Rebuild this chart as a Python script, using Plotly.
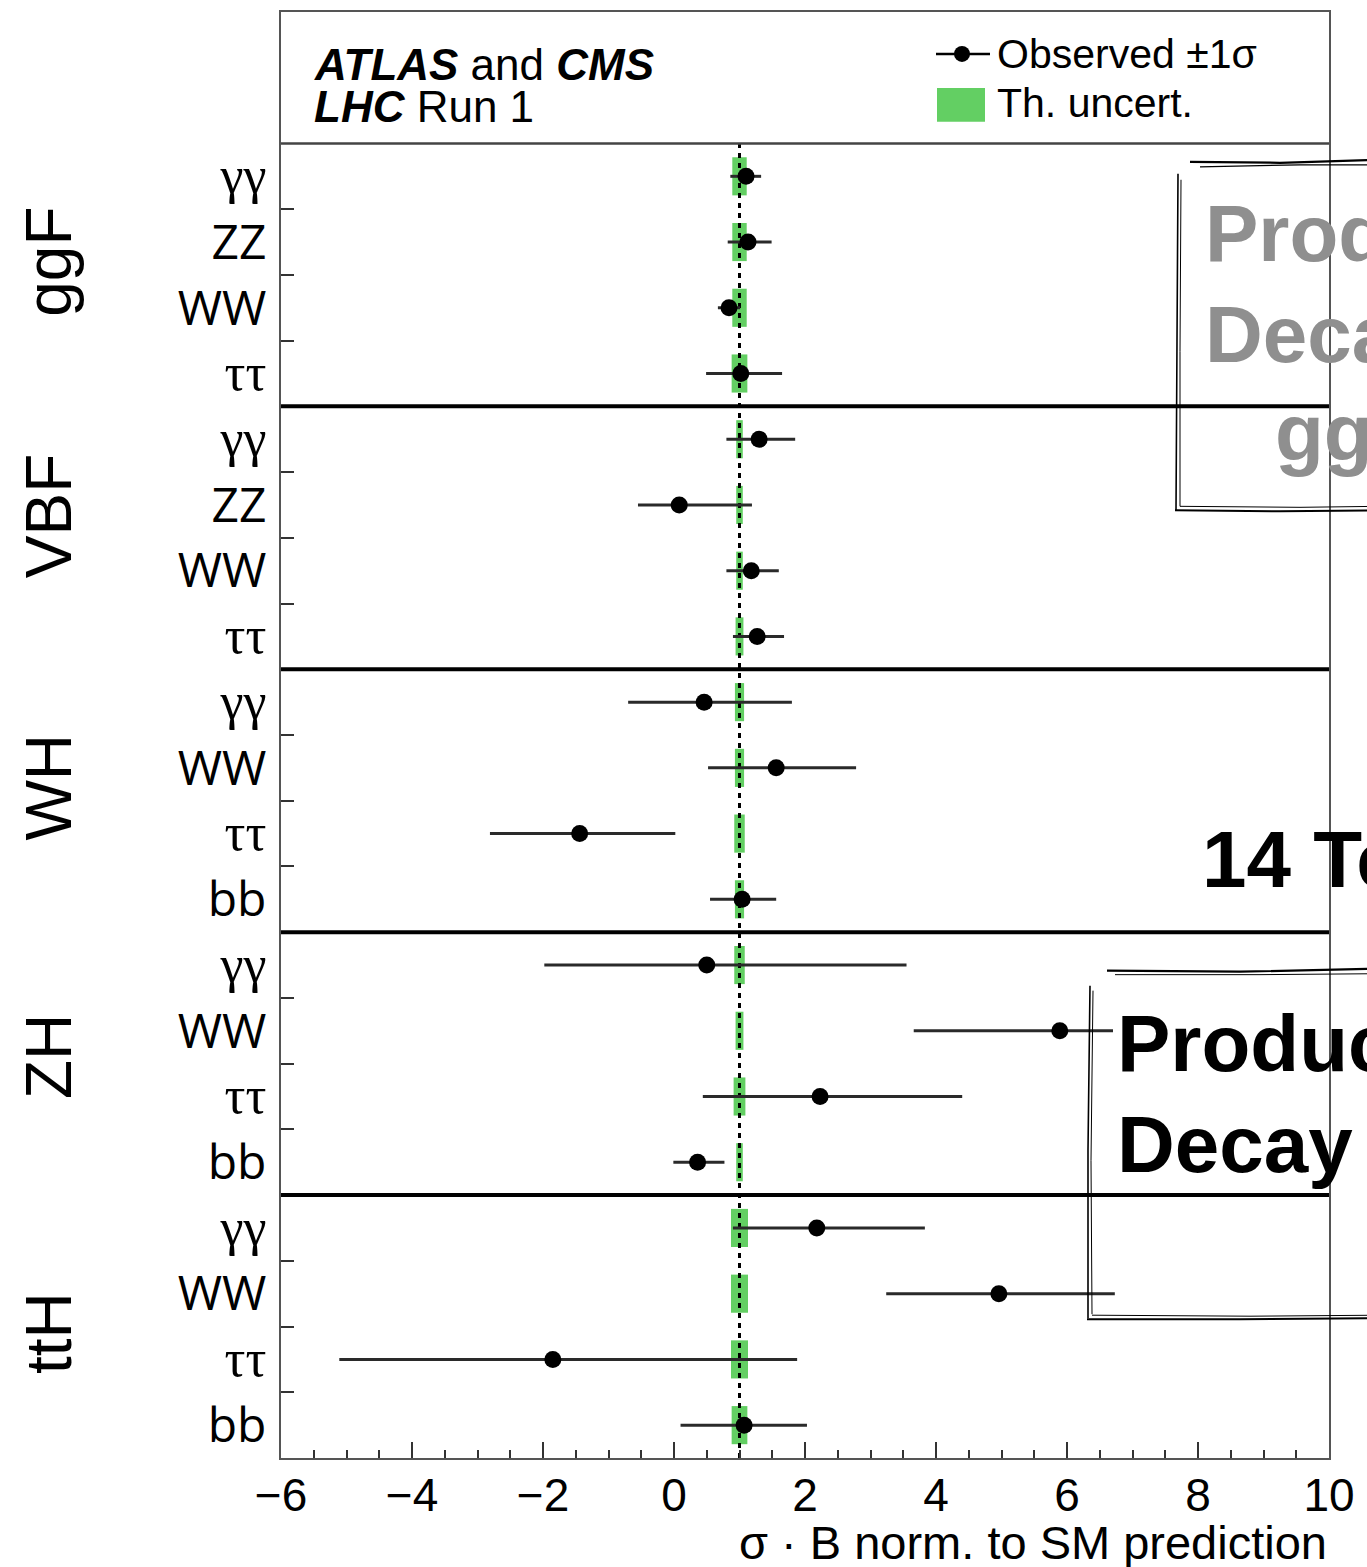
import plotly.graph_objects as go

# ---------------- data ----------------
groups = ["ggF", "VBF", "WH", "ZH", "ttH"]
decays = [
    ["γγ", "ZZ", "WW", "ττ"],
    ["γγ", "ZZ", "WW", "ττ"],
    ["γγ", "WW", "ττ", "bb"],
    ["γγ", "WW", "ττ", "bb"],
    ["γγ", "WW", "ττ", "bb"],
]
mu = [1.10, 1.13, 0.84, 1.02,
      1.30, 0.08, 1.18, 1.27,
      0.46, 1.56, -1.44, 1.04,
      0.50, 5.89, 2.23, 0.36,
      2.18, 4.96, -1.85, 1.07]
err_hi = [0.23, 0.36, 0.17, 0.63,
          0.55, 1.11, 0.42, 0.41,
          1.34, 1.22, 1.46, 0.52,
          3.05, 2.60, 2.17, 0.41,
          1.65, 1.77, 3.73, 0.96]
err_lo = [0.24, 0.31, 0.17, 0.53,
          0.50, 0.63, 0.38, 0.37,
          1.16, 1.04, 1.37, 0.49,
          2.48, 2.23, 1.79, 0.37,
          1.28, 1.72, 3.26, 0.97]
th_unc = [0.11, 0.11, 0.11, 0.12,
          0.05, 0.05, 0.05, 0.06,
          0.07, 0.07, 0.08, 0.07,
          0.08, 0.06, 0.09, 0.05,
          0.13, 0.13, 0.13, 0.12]
sm_value = 1.0
x_ticks = [-6, -4, -2, 0, 2, 4, 6, 8, 10]

# ---------------- geometry / style ----------------
W, H = 1367, 1567
ML, MR, MT, MB = 281, 38, 10, 109
PW, PH = W - ML - MR, H - MT - MB
GREEN = "#63cf63"
SANS = "Liberation Sans, Arial, sans-serif"
LAB = "Open Sans, sans-serif"
SERIF = "Liberation Serif, serif"

def px(x):
    return (x - ML) / PW

def py(y):
    return (H - MB - y) / PH

n_rows = sum(len(d) for d in decays)
row_labels = [d for grp in decays for d in grp]
ypos = [n_rows - i - 0.5 for i in range(n_rows)]

def fmt_label(s):
    if s in ("γγ", "ττ"):
        return f'<span style="font-family:{SERIF};font-size:52px">{s}</span>'
    return s

fig = go.Figure()

# theory uncertainty boxes
fig.add_trace(go.Bar(
    orientation="h", y=ypos,
    x=[2 * u for u in th_unc], base=[sm_value - u for u in th_unc],
    width=0.58, marker=dict(color=GREEN, line=dict(width=0)),
    showlegend=False, hoverinfo="skip"))

# SM reference line
fig.add_trace(go.Scatter(
    x=[sm_value, sm_value], y=[0, n_rows], mode="lines",
    line=dict(color="black", width=3, dash="5px,5px"),
    showlegend=False, hoverinfo="skip"))

# observed
fig.add_trace(go.Scatter(
    x=mu, y=ypos, mode="markers",
    marker=dict(color="black", size=17),
    error_x=dict(type="data", symmetric=False, array=err_hi, arrayminus=err_lo,
                 color="#2a2a2a", thickness=3, width=0),
    showlegend=False))

shapes = []
# group separators
cum = 0
for g in decays[:-1]:
    cum += len(g)
    shapes.append(dict(type="line", xref="paper", yref="y", x0=0, x1=1,
                       y0=n_rows - cum, y1=n_rows - cum,
                       line=dict(color="black", width=4), layer="above"))
# header separator
shapes.append(dict(type="line", xref="paper", yref="y", x0=0, x1=1,
                   y0=n_rows, y1=n_rows, line=dict(color="#444", width=2.5), layer="above"))

# legend decorations
shapes.append(dict(type="line", xref="paper", yref="paper", x0=px(936), x1=px(990),
                   y0=py(52), y1=py(52), line=dict(color="black", width=2.5)))
shapes.append(dict(type="circle", xref="paper", yref="paper", x0=px(954), x1=px(970),
                   y0=py(44), y1=py(60), fillcolor="black", line=dict(width=0)))
shapes.append(dict(type="rect", xref="paper", yref="paper", x0=px(937), x1=px(985),
                   y0=py(86), y1=py(120), fillcolor=GREEN, line=dict(width=0)))

# white cover behind overlay text (box 2)
shapes.append(dict(type="rect", xref="paper", yref="paper", x0=px(1113), x1=px(1326),
                   y0=py(1000), y1=py(1092), fillcolor="white", line=dict(width=0),
                   layer="above"))

# sketchy boxes
def sketch(pts, w=1.6):
    path = "M " + " L ".join(f"{px(a)},{py(b)}" for a, b in pts)
    return dict(type="path", xref="paper", yref="paper", path=path,
                line=dict(color="black", width=w), layer="above")

shapes += [
    sketch([(1190, 160), (1280, 161), (1380, 158)], 2.2),
    sketch([(1200, 165), (1300, 163), (1380, 163)], 1.2),
    sketch([(1178, 172), (1177, 340), (1176, 509)], 1.6),
    sketch([(1181, 178), (1180, 350), (1180, 505)], 1.0),
    sketch([(1175, 509), (1280, 510), (1380, 509)], 2.0),
    sketch([(1180, 505), (1300, 506), (1380, 505)], 1.0),
    sketch([(1107, 970), (1240, 971), (1380, 968)], 2.2),
    sketch([(1115, 974), (1260, 974), (1380, 973)], 1.0),
    sketch([(1090, 985), (1088, 1150), (1088, 1318)], 1.6),
    sketch([(1093, 990), (1091, 1160), (1092, 1314)], 1.0),
    sketch([(1087, 1319), (1240, 1319), (1380, 1318)], 2.0),
    sketch([(1092, 1315), (1250, 1316), (1380, 1315)], 1.0),
]

annotations = []
# group labels
label_offsets = [0.2, 0.33, 0.2, 0.1, -0.1]
cum = 0
for g, d, off in zip(groups, decays, label_offsets):
    center = n_rows - cum - len(d) / 2 + off
    cum += len(d)
    annotations.append(dict(text=g, xref="paper", yref="y", x=px(49), y=center,
                            textangle=-90, showarrow=False, xanchor="center", yanchor="middle",
                            font=dict(family=SANS, size=64, color="black")))

# header texts
annotations += [
    dict(text="<b><i>ATLAS</i></b> and <b><i>CMS</i></b>", xref="paper", yref="paper",
         x=px(312), y=py(63), xanchor="left", yanchor="middle", showarrow=False,
         font=dict(family=SANS, size=44, color="black")),
    dict(text="<b><i>LHC</i></b> Run 1", xref="paper", yref="paper",
         x=px(312), y=py(105), xanchor="left", yanchor="middle", showarrow=False,
         font=dict(family=SANS, size=44, color="black")),
    dict(text="Observed ±1σ", xref="paper", yref="paper",
         x=px(995), y=py(52), xanchor="left", yanchor="middle", showarrow=False,
         font=dict(family=SANS, size=41, color="black")),
    dict(text="Th. uncert.", xref="paper", yref="paper",
         x=px(995), y=py(101), xanchor="left", yanchor="middle", showarrow=False,
         font=dict(family=SANS, size=41, color="black")),
    dict(text="σ · B norm. to SM prediction", xref="paper", yref="paper",
         x=1, y=py(1543), xanchor="right", yanchor="middle", showarrow=False,
         font=dict(family=SANS, size=47, color="black")),
]

# overlay texts
def ov(text, x, y, size, color):
    return dict(text=f"<b>{text}</b>", xref="paper", yref="paper", x=px(x), y=py(y),
                xanchor="left", yanchor="middle", showarrow=False,
                font=dict(family=SANS, size=size, color=color))

annotations += [
    ov("Production", 1203, 232, 80, "#8f8f8f"),
    ov("Decay", 1203, 333, 80, "#8f8f8f"),
    ov("ggF", 1273, 431, 80, "#8f8f8f"),
    ov("14 TeV", 1200, 859, 80, "black"),
    ov("Production", 1115, 1043, 80, "black"),
    ov("Decay", 1115, 1144, 80, "black"),
]

fig.update_layout(
    width=W, height=H, autosize=False,
    margin=dict(l=ML, r=MR, t=MT, b=MB, pad=0),
    paper_bgcolor="white", plot_bgcolor="white",
    barmode="overlay", showlegend=False,
    shapes=shapes, annotations=annotations,
    xaxis=dict(range=[x_ticks[0], x_ticks[-1]], tickvals=x_ticks,
               ticks="inside", ticklen=16, tickwidth=2, tickcolor="#333",
               minor=dict(dtick=0.5, tick0=x_ticks[0], ticks="inside", ticklen=8,
                          tickwidth=2, tickcolor="#333"),
               showline=True, linecolor="#555", linewidth=2, mirror=True,
               showgrid=False, zeroline=False, ticklabelstandoff=-4,
               tickfont=dict(family=SANS, size=46, color="black")),
    yaxis=dict(range=[0, n_rows + 2], tickvals=ypos,
               ticktext=[fmt_label(s) for s in row_labels],
               ticks="inside", ticklen=0,
               minor=dict(tickmode="array", tickvals=list(range(1, n_rows)),
                          ticks="inside", ticklen=13, tickwidth=2, tickcolor="#333"),
               showline=True, linecolor="#555", linewidth=2, mirror=True,
               showgrid=False, zeroline=False, ticklabelstandoff=3,
               tickfont=dict(family=LAB, size=48, color="black")),
)

fig.write_html("out.html")
